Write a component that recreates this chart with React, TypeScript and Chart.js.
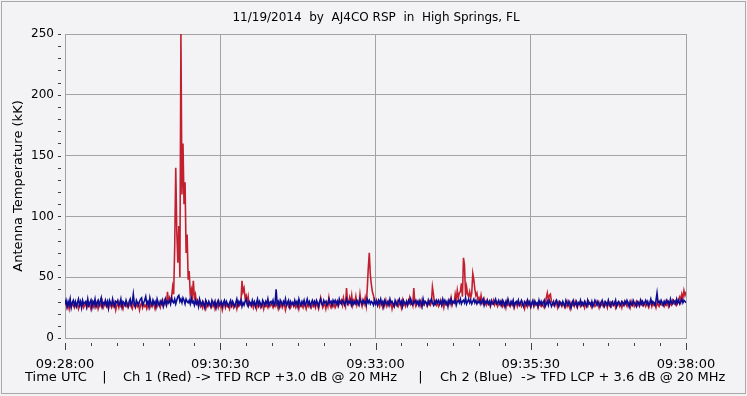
import React, { useEffect, useRef } from "react";
import { Chart, registerables } from "chart.js";

Chart.register(...registerables);

// ---------- DATA ----------
const TITLE = "11/19/2014  by  AJ4CO RSP  in  High Springs, FL";
const Y_TITLE = "Antenna Temperature (kK)";
const FOOTER_PARTS = [
  "Time UTC",
  "|",
  "Ch 1 (Red) -> TFD RCP +3.0 dB @ 20 MHz",
  "|",
  "Ch 2 (Blue)  -> TFD LCP + 3.6 dB @ 20 MHz",
];
const START_LABEL_SECONDS = 9 * 3600 + 28 * 60; // 09:28:00
const SAMPLE_STEP_SECONDS = 1;
const X_TICK_LABELS = ["09:28:00", "09:30:30", "09:33:00", "09:35:30", "09:38:00"];
const Y_TICKS = [0, 50, 100, 150, 200, 250];

// Ch 1 (red) – antenna temperature, kK, one sample per second from 09:28:00
const ch1Red: number[] = [
  27,29,25,28,24,30,26,28,27,25,29,26,28,24,27,29,26,28,25,27,
  28,25,29,26,27,24,30,27,25,28,26,29,24,27,28,26,30,25,27,28,
  26,28,24,29,27,25,28,26,29,23,27,28,25,29,26,27,24,28,27,26,
  28,25,27,29,26,24,28,27,25,29,26,28,23,27,29,25,28,26,27,24,
  27,29,25,28,26,30,27,24,28,26,29,27,25,30,28,26,31,29,27,38,
  30,33,29,34,42,36,75,140,88,62,92,50,250,118,160,110,128,70,85,48,
  55,36,40,34,47,33,36,29,31,27,30,26,28,25,29,27,24,28,26,29,
  27,25,28,26,29,24,27,28,25,29,26,28,23,27,29,25,28,26,27,24,
  28,26,29,25,27,28,24,29,26,27,30,47,38,41,33,35,29,34,27,28,
  26,29,25,28,27,24,29,26,28,25,27,29,24,28,26,27,25,29,26,28,
  27,25,28,26,29,27,24,28,26,29,25,27,28,23,27,29,26,28,25,27,
  29,26,28,25,27,29,24,28,26,27,25,29,27,24,28,26,29,27,25,28,
  26,28,25,29,27,24,28,33,29,25,27,28,24,29,26,33,27,25,29,26,
  28,25,27,30,26,28,29,31,27,33,29,26,41,30,28,33,29,35,27,31,
  29,34,27,30,28,36,29,26,31,28,33,27,40,57,70,52,44,38,35,30,
  28,31,27,29,26,30,28,25,29,27,31,26,28,30,27,29,24,28,26,29,
  27,30,26,28,29,25,31,27,28,26,30,27,29,33,28,30,27,41,29,26,
  28,30,27,29,26,31,28,27,30,29,26,28,30,27,29,42,36,28,30,27,
  29,26,28,31,27,29,25,30,28,27,29,31,28,33,27,30,29,36,31,39,
  33,37,38,45,34,66,60,35,42,36,34,38,33,37,53,48,40,35,37,31,
  33,29,35,30,28,32,29,27,31,28,30,26,29,28,31,27,29,30,26,28,
  29,27,30,26,28,29,25,30,27,28,26,29,27,30,25,28,29,26,30,27,
  28,26,29,27,24,28,30,26,29,27,25,28,29,26,30,27,28,25,29,27,
  26,29,27,25,28,33,37,31,35,36,30,29,27,26,30,28,25,29,27,28,
  26,29,27,25,28,26,30,27,24,29,27,28,26,30,27,25,29,28,26,29,
  27,28,25,29,27,26,30,28,27,25,29,28,26,27,30,28,25,29,27,28,
  26,29,27,28,25,30,27,29,26,28,27,29,25,28,27,29,26,28,25,29,
  27,30,28,26,29,28,25,30,27,29,26,28,30,27,29,26,28,30,27,29,
  28,26,29,27,25,28,30,26,29,27,28,25,29,27,26,30,28,27,29,26,
  28,27,30,26,29,28,27,31,29,28,30,27,29,32,34,30,36,33,39,35,
  38,
];

// Ch 2 (blue) – antenna temperature, kK, one sample per second from 09:28:00
const ch2Blue: number[] = [
  28,31,26,30,27,32,25,29,31,27,30,26,29,32,27,30,25,31,28,29,
  30,26,32,27,29,31,25,30,28,32,26,29,31,27,30,33,26,29,28,31,
  27,30,25,31,29,27,32,28,26,30,29,31,27,28,32,26,30,29,27,31,
  28,26,30,32,27,29,36,28,26,31,29,27,30,32,33,27,29,31,34,28,
  30,26,33,29,27,31,28,30,26,32,29,27,30,28,31,26,29,32,27,30,
  29,31,28,33,30,29,32,28,31,34,35,30,32,29,33,31,28,32,30,29,
  31,28,33,29,30,27,31,28,30,26,32,29,27,30,28,25,31,29,27,30,
  28,26,31,29,27,30,25,29,31,27,28,30,26,29,31,27,30,28,26,29,
  31,27,30,28,26,29,32,27,30,28,31,26,29,27,30,32,28,26,30,29,
  27,31,28,30,26,29,32,27,30,28,26,31,29,27,30,28,32,27,29,30,
  28,31,27,29,40,28,30,26,31,29,27,30,28,32,27,29,31,26,30,28,
  29,27,31,28,30,26,32,29,27,30,28,31,27,29,32,28,30,26,29,31,
  28,30,27,31,29,26,30,32,28,27,31,29,30,27,28,32,29,30,27,31,
  29,31,28,30,27,32,29,28,31,30,27,29,32,28,30,29,31,27,30,28,
  30,28,31,29,27,32,30,28,31,29,30,27,32,29,31,28,30,29,27,31,
  28,30,27,31,29,32,28,30,26,31,29,28,30,27,32,29,30,28,26,31,
  29,27,30,32,28,30,26,31,29,28,30,27,31,29,32,28,27,30,29,31,
  28,30,27,31,29,26,32,28,30,29,27,31,28,30,32,29,27,30,28,31,
  29,31,28,30,27,32,29,31,28,30,26,31,29,32,28,30,29,31,27,30,
  31,29,32,28,30,31,29,33,28,30,32,29,31,28,30,32,29,31,28,30,
  29,31,28,30,32,27,30,29,31,28,30,27,31,29,28,30,32,28,29,31,
  28,30,27,31,29,26,30,28,32,29,27,30,28,31,26,29,30,28,31,27,
  29,31,28,26,30,29,27,31,28,30,26,29,31,27,30,28,29,26,31,28,
  30,27,29,31,26,28,30,27,31,29,26,28,30,27,29,31,28,26,30,29,
  27,30,28,26,31,29,27,30,28,25,29,31,27,28,30,26,29,28,31,27,
  29,27,30,28,26,31,28,29,27,30,26,28,31,29,27,30,28,26,29,31,
  28,26,30,29,27,31,28,26,29,30,27,28,31,26,29,30,28,27,30,29,
  27,30,28,31,29,26,30,28,27,31,29,28,26,30,29,27,31,28,30,27,
  29,31,28,30,27,29,32,28,30,29,27,31,37,29,30,28,31,29,27,30,
  28,31,29,30,27,32,29,28,31,30,28,32,29,31,28,30,32,29,31,30,
  29,
];

// ---------- STYLE ----------
const FONT = "DejaVu Sans";
const BG = "#f3f3f6";
const GRID = "#a3a3a3";
const RED = "#c21f2f";
const BLUE = "#0c0c94";
const PLOT_LEFT = 65;
const PLOT_TOP = 34;
const PLOT_RIGHT = 686;
const PLOT_BOTTOM = 338;
const CW = 747;
const CH = 396;
// footer segment anchors: [x, align]
const FOOTER_POS: [number, CanvasTextAlign][] = [
  [25, "left"],
  [104.5, "center"],
  [123, "left"],
  [420.5, "center"],
  [440, "left"],
];

function fmtTime(sec: number): string {
  const t = START_LABEL_SECONDS + sec;
  const h = Math.floor(t / 3600);
  const m = Math.floor((t % 3600) / 60);
  const s = Math.floor(t % 60);
  const p = (n: number) => String(n).padStart(2, "0");
  return `${p(h)}:${p(m)}:${p(s)}`;
}

const decorPlugin = {
  id: "decor",
  beforeDraw(chart: any) {
    const ctx = chart.ctx;
    ctx.save();
    ctx.fillStyle = BG;
    ctx.fillRect(0, 0, CW, CH);
    ctx.strokeStyle = "#a8a8a8";
    ctx.lineWidth = 1;
    ctx.strokeRect(1.5, 1.5, CW - 3, CH - 4);
    ctx.restore();
  },
  afterDraw(chart: any) {
    const ctx = chart.ctx;
    const xs = chart.scales.x;
    const ys = chart.scales.y;
    ctx.save();
    // y minor/major tick marks
    ctx.strokeStyle = "#404040";
    ctx.lineWidth = 1;
    for (let v = 0; v <= 250; v += 10) {
      const y = Math.round(ys.getPixelForValue(v)) + 0.5;
      ctx.beginPath();
      ctx.moveTo(58, y);
      ctx.lineTo(61, y);
      ctx.stroke();
    }
    // x tick marks every 25 s
    for (let s = 0; s <= 600; s += 25) {
      const x = Math.round(xs.getPixelForValue(s)) + 0.5;
      const major = s % 150 === 0;
      ctx.beginPath();
      ctx.moveTo(x, 343);
      ctx.lineTo(x, major ? 350 : 346);
      ctx.stroke();
    }
    // texts
    ctx.fillStyle = "#000";
    ctx.textBaseline = "middle";
    ctx.font = `12px "${FONT}"`;
    ctx.textAlign = "center";
    ctx.fillText(TITLE, 376, 18);
    ctx.font = `13px "${FONT}"`;
    FOOTER_PARTS.forEach((t, i) => {
      ctx.textAlign = FOOTER_POS[i][1];
      ctx.fillText(t, FOOTER_POS[i][0], 378);
    });
    ctx.translate(19, 186);
    ctx.rotate(-Math.PI / 2);
    ctx.textAlign = "center";
    ctx.fillText(Y_TITLE, 0, 0);
    ctx.restore();
  },
};

export default function App() {
  const ref = useRef<HTMLCanvasElement | null>(null);

  useEffect(() => {
    if (!ref.current) return;
    const redPts = ch1Red.map((v, i) => ({ x: i * SAMPLE_STEP_SECONDS, y: v }));
    const bluePts = ch2Blue.map((v, i) => ({ x: i * SAMPLE_STEP_SECONDS, y: v }));
    const chart = new Chart(ref.current, {
      type: "line",
      data: {
        datasets: [
          {
            label: "Ch 1 (Red)",
            data: redPts,
            borderColor: RED,
            borderWidth: 1.6,
            pointRadius: 0,
            tension: 0,
            order: 2,
          },
          {
            label: "Ch 2 (Blue)",
            data: bluePts,
            borderColor: BLUE,
            borderWidth: 1.6,
            pointRadius: 0,
            tension: 0,
            order: 1,
          },
        ],
      },
      options: {
        responsive: false,
        animation: false,
        events: [],
        layout: { padding: { left: 0, top: PLOT_TOP, right: CW - PLOT_RIGHT, bottom: 0 } },
        plugins: { legend: { display: false }, tooltip: { enabled: false }, title: { display: false } },
        scales: {
          x: {
            type: "linear",
            min: 0,
            max: 600,
            afterFit: (s: any) => {
              s.height = CH - PLOT_BOTTOM;
            },
            afterBuildTicks: (s: any) => {
              s.ticks = X_TICK_LABELS.map((_, i) => ({ value: i * 150 }));
            },
            ticks: {
              autoSkip: false,
              maxRotation: 0,
              padding: 19,
              color: "#000",
              font: { family: FONT, size: 13 },
              callback: (v: any) => fmtTime(Number(v)),
            },
            grid: { color: GRID, drawTicks: false, lineWidth: 1 },
            border: { color: GRID },
          },
          y: {
            min: 0,
            max: 250,
            afterFit: (s: any) => {
              s.width = PLOT_LEFT;
            },
            afterBuildTicks: (s: any) => {
              s.ticks = Y_TICKS.map((v) => ({ value: v }));
            },
            ticks: {
              padding: 11,
              color: "#000",
              font: { family: FONT, size: 12 },
            },
            grid: { color: GRID, drawTicks: false, lineWidth: 1 },
            border: { color: GRID },
          },
        },
      },
      plugins: [decorPlugin],
    });
    return () => chart.destroy();
  }, []);

  return (
    <div style={{ position: "fixed", left: 0, top: 0, width: CW, height: CH }}>
      <canvas ref={ref} width={CW} height={CH} style={{ display: "block" }} />
    </div>
  );
}
